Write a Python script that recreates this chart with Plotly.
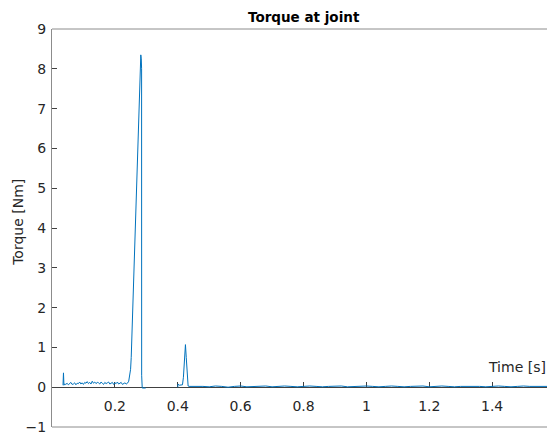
import plotly.graph_objects as go

# ---- data ----
time_start = [0.035, 0.0365, 0.038, 0.040]
torque_start = [0.05, 0.36, 0.05, 0.08]

time_noise = [0.044, 0.048, 0.052, 0.056, 0.060, 0.064, 0.068, 0.072, 0.076, 0.080,
              0.084, 0.088, 0.092, 0.096, 0.100, 0.104, 0.108, 0.112, 0.116, 0.120,
              0.124, 0.128, 0.132, 0.136, 0.140, 0.144, 0.148, 0.152, 0.156, 0.160,
              0.164, 0.168, 0.172, 0.176, 0.180, 0.184, 0.188, 0.192, 0.196, 0.200,
              0.204, 0.208, 0.212, 0.216, 0.220, 0.224, 0.228, 0.232, 0.236]
torque_noise = [0.07, 0.10, 0.06, 0.09, 0.12, 0.07, 0.08, 0.11, 0.06, 0.10,
                0.09, 0.13, 0.08, 0.11, 0.07, 0.12, 0.10, 0.14, 0.09, 0.12,
                0.08, 0.15, 0.10, 0.13, 0.09, 0.12, 0.11, 0.08, 0.13, 0.10,
                0.07, 0.12, 0.09, 0.11, 0.13, 0.08, 0.10, 0.12, 0.07, 0.11,
                0.09, 0.13, 0.08, 0.10, 0.12, 0.07, 0.09, 0.11, 0.08]

time_peak = [0.240, 0.244, 0.247, 0.250, 0.252, 0.256, 0.260, 0.265, 0.270, 0.275,
             0.279, 0.2825, 0.2840, 0.2850, 0.2852, 0.2870, 0.2980]
torque_peak = [0.10, 0.15, 0.28, 0.45, 0.75, 1.75, 2.75, 4.0, 5.3, 6.55,
               7.6, 8.35, 8.25, 8.0, 0.3, -0.02, -0.02]

time_bump = [0.400, 0.401, 0.405, 0.410, 0.415, 0.418, 0.421, 0.4245, 0.427, 0.430, 0.433, 0.436]
torque_bump = [0.0, 0.08, 0.05, 0.05, 0.06, 0.25, 0.7, 1.07, 0.75, 0.25, 0.03, 0.02]

time_tail = [0.44, 0.46, 0.48, 0.50, 0.52, 0.54, 0.56, 0.58, 0.60, 0.62,
             0.64, 0.66, 0.68, 0.70, 0.72, 0.74, 0.76, 0.78, 0.80, 0.82,
             0.84, 0.86, 0.88, 0.90, 0.92, 0.94, 0.96, 0.98, 1.00, 1.02,
             1.04, 1.06, 1.08, 1.10, 1.12, 1.14, 1.16, 1.18, 1.20, 1.22,
             1.24, 1.26, 1.28, 1.30, 1.32, 1.34, 1.36, 1.38, 1.40, 1.42,
             1.44, 1.46, 1.48, 1.50, 1.52, 1.54, 1.56, 1.58, 1.60]
torque_tail = [0.02, 0.03, 0.02, 0.01, 0.03, 0.02, 0.00, 0.02, 0.03, 0.01,
               0.02, 0.02, 0.03, 0.01, 0.02, 0.03, 0.02, 0.01, 0.02, 0.03,
               0.02, 0.01, 0.02, 0.02, 0.03, 0.01, 0.02, 0.02, 0.03, 0.02,
               0.01, 0.02, 0.03, 0.02, 0.01, 0.02, 0.02, 0.03, 0.01, 0.02,
               0.03, 0.02, 0.01, 0.02, 0.02, 0.03, 0.02, 0.01, 0.02, 0.03,
               0.02, 0.01, 0.02, 0.03, 0.02, 0.02, 0.01, 0.02, 0.02]

x_tickvals = [0.2, 0.4, 0.6, 0.8, 1.0, 1.2, 1.4]
x_ticktext = ["0.2", "0.4", "0.6", "0.8", "1", "1.2", "1.4"]
y_tickvals = [-1, 0, 1, 2, 3, 4, 5, 6, 7, 8, 9]

title_text = "Torque at joint"
xlabel_text = "Time [s]"
ylabel_text = "Torque [Nm]"

# ---- build series (gap between the two recorded parts) ----
t = time_start + time_noise + time_peak + [None] + time_bump + time_tail
y = torque_start + torque_noise + torque_peak + [None] + torque_bump + torque_tail

FONT = "DejaVu Sans"
TXT = "#262626"
BOX = "#8c8c8c"

fig = go.Figure()
fig.add_trace(go.Scatter(x=t, y=y, mode="lines",
                         line=dict(color="#0072BD", width=1),
                         connectgaps=False, hoverinfo="skip", showlegend=False))
# invisible trace to carry the right-side ticks
fig.add_trace(go.Scatter(x=[None], y=[None], yaxis="y2", showlegend=False))

# the page body adds an 8px offset, so the figure is sized to fit the window
fig.update_layout(
    width=547, height=428,
    margin=dict(l=44, r=0, t=21, b=9),
    paper_bgcolor="white", plot_bgcolor="white",
    font=dict(family=FONT, size=14, color=TXT),
    xaxis=dict(range=[0, 1.6], anchor="free", position=0.1,
               tickvals=x_tickvals, ticktext=x_ticktext,
               ticks="inside", ticklen=5, tickcolor="#404040",
               showline=True, linecolor="#404040", linewidth=1,
               showgrid=False, zeroline=False, layer="below traces",
               tickfont=dict(family=FONT, size=14, color=TXT),
               ticklabelstandoff=6),
    yaxis=dict(range=[-1, 9], tickvals=y_tickvals,
               ticks="inside", ticklen=5, tickcolor="#404040",
               showline=True, linecolor=BOX, linewidth=1,
               showgrid=False, zeroline=False,
               tickfont=dict(family=FONT, size=14, color=TXT),
               ticklabelstandoff=2),
    yaxis2=dict(range=[-1, 9], tickvals=y_tickvals, overlaying="y", side="right",
                ticks="inside", ticklen=5, tickcolor="#404040",
                showline=False, showgrid=False, zeroline=False,
                showticklabels=False),
    shapes=[
        dict(type="line", xref="paper", yref="paper", x0=0, x1=1, y0=1, y1=1,
             line=dict(color=BOX, width=1), layer="below"),
        dict(type="line", xref="paper", yref="paper", x0=0, x1=1, y0=0, y1=0,
             line=dict(color=BOX, width=1), layer="below"),
    ],
    annotations=[
        dict(text="<b>" + title_text + "</b>", xref="paper", yref="paper",
             x=0.5, y=1, xanchor="center", yanchor="bottom", yshift=2,
             showarrow=False, font=dict(family=FONT, size=13.5, color="black")),
        dict(text=xlabel_text, xref="paper", yref="y", x=1, y=0,
             xanchor="right", yanchor="bottom", xshift=-7, yshift=10,
             showarrow=False, font=dict(family=FONT, size=14, color=TXT)),
        dict(text=ylabel_text, xref="paper", yref="paper", x=0, y=0.513,
             xanchor="center", yanchor="middle", xshift=-34, textangle=-90,
             showarrow=False, font=dict(family=FONT, size=14, color=TXT)),
    ],
)

fig.write_html("out.html")
